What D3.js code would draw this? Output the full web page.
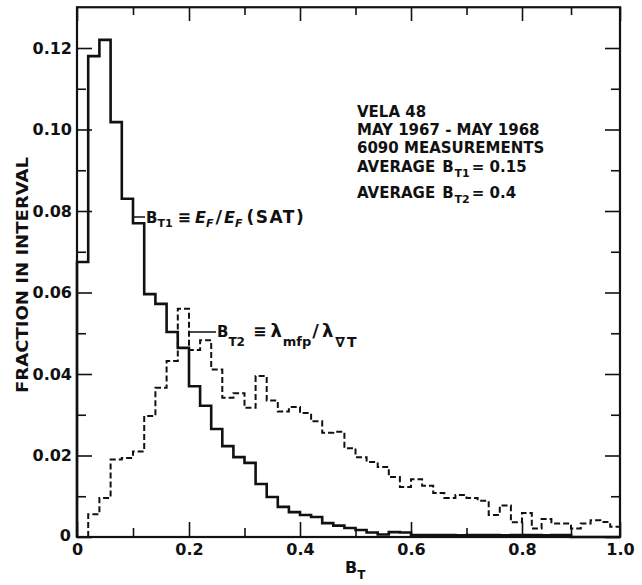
<!DOCTYPE html>
<html>
<head>
<meta charset="utf-8">
<script src="https://cdn.jsdelivr.net/npm/d3@7"></script>
<style>
  body { margin: 0; background: #fff; }
  svg { display: block; }
  text { font-family: "DejaVu Sans", sans-serif; font-weight: bold; fill: #111; }
</style>
</head>
<body>
<svg id="chart" width="642" height="585"></svg>
<script>
// lower edge of each 0.02 wide interval of B_T
var binLower = [0.00, 0.02, 0.04, 0.06, 0.08, 0.10, 0.12, 0.14, 0.16, 0.18,
                0.20, 0.22, 0.24, 0.26, 0.28, 0.30, 0.32, 0.34, 0.36, 0.38,
                0.40, 0.42, 0.44, 0.46, 0.48, 0.50, 0.52, 0.54, 0.56, 0.58,
                0.60, 0.62, 0.64, 0.66, 0.68, 0.70, 0.72, 0.74, 0.76, 0.78,
                0.80, 0.82, 0.84, 0.86, 0.88, 0.90, 0.92, 0.94, 0.96, 0.98];

// B_T1 = E_F / E_F(SAT)  (solid)
var bt1Fraction = [0.0675, 0.118, 0.122, 0.1018, 0.083, 0.077, 0.0596, 0.0572, 0.0503, 0.0464,
                   0.037, 0.0322, 0.0265, 0.0223, 0.0196, 0.0182, 0.013, 0.0098, 0.0074, 0.0061,
                   0.0054, 0.0049, 0.0034, 0.0028, 0.0022, 0.0017, 0.0011, 0.0006, 0.0012, 0.0011,
                   0.0005, 0.0005, 0.0005, 0.0005, 0.0004, 0.0005, 0.0005, 0.0005, 0.0004, 0.0005,
                   0.0005, 0.0005, 0.0004, 0.0005, 0.0005, 0, 0, 0, 0, 0];

// B_T2 = lambda_mfp / lambda_gradT  (dashed)
var bt2Fraction = [0, 0.0056, 0.0096, 0.019, 0.0194, 0.021, 0.0297, 0.0366, 0.0432, 0.056,
                   0.0459, 0.0483, 0.0411, 0.0342, 0.0353, 0.0317, 0.0395, 0.0335, 0.0308, 0.0319,
                   0.0304, 0.0284, 0.0256, 0.0258, 0.0218, 0.0196, 0.0184, 0.0172, 0.0147, 0.0123,
                   0.0142, 0.0126, 0.0108, 0.0096, 0.0103, 0.0096, 0.0089, 0.0054, 0.0077, 0.0036,
                   0.0059, 0.0021, 0.0044, 0.0033, 0.0033, 0.0021, 0.0033, 0.0041, 0.0037, 0.0025];

var xMajor = [0, 0.2, 0.4, 0.6, 0.8, 1.0];
var xMinor = [0.1, 0.3, 0.5, 0.7, 0.9];
var xLabels = ["0", "0.2", "0.4", "0.6", "0.8", "1.0"];
var yMajor = [0, 0.02, 0.04, 0.06, 0.08, 0.10, 0.12];
var yMinor = [0.01, 0.03, 0.05, 0.07, 0.09, 0.11];
var yLabels = ["0", "0.02", "0.04", "0.06", "0.08", "0.10", "0.12"];

var infoLines = ["VELA 48", "MAY 1967 - MAY 1968", "6090 MEASUREMENTS"];
var averages = [["T1", "0.15"], ["T2", "0.4"]];

const svg = d3.select("#chart");

// the printed x axis is not quite even, so the scale follows the printed ticks
const x = d3.scaleLinear()
    .domain([0, 0.2, 0.4, 0.6, 0.8, 1.0])
    .range([77, 189, 300, 411, 522, 620]);
const y = d3.scaleLinear()
    .domain([0, 0.13])
    .range([537, 7.25]);

function stepPoints(values) {
    let first = values.findIndex(v => v > 0);
    let pts = [[binLower[first], 0]];
    for (let i = first; i < values.length; i++) pts.push([binLower[i], values[i]]);
    pts.push([1.0, values[values.length - 1]]);
    return pts;
}

const step = d3.line()
    .x(d => x(d[0]))
    .y(d => y(d[1]))
    .curve(d3.curveStepAfter);

// axes, ticks pointing inward
function drawAxis(axis, tx, ty) {
    const g = svg.append("g")
        .attr("transform", `translate(${tx},${ty})`)
        .call(axis);
    g.select(".domain").remove();
    g.selectAll("line").attr("stroke", "#111").attr("stroke-width", 1.6);
    g.selectAll("text")
        .attr("font-family", "DejaVu Sans")
        .attr("font-weight", "bold")
        .attr("font-size", 16)
        .attr("fill", "#111");
    return g;
}

drawAxis(d3.axisBottom(x).tickValues(xMajor).tickSize(-15).tickPadding(7)
    .tickFormat((d, i) => xLabels[i]), 0, 537);
drawAxis(d3.axisBottom(x).tickValues(xMinor).tickSize(-9).tickFormat(""), 0, 537);
drawAxis(d3.axisTop(x).tickValues(xMajor).tickSize(-14).tickFormat(""), 0, 7);
drawAxis(d3.axisTop(x).tickValues(xMinor).tickSize(-8).tickFormat(""), 0, 7);

const yAx = drawAxis(d3.axisLeft(y).tickValues(yMajor).tickSize(-15).tickPadding(5)
    .tickFormat((d, i) => yLabels[i]), 77, 0);
yAx.selectAll(".tick").filter(d => d === 0).select("text").attr("dx", "-1").attr("dy", "0.2em");
drawAxis(d3.axisLeft(y).tickValues(yMinor).tickSize(-9).tickFormat(""), 77, 0);
drawAxis(d3.axisRight(y).tickValues(yMajor).tickSize(-15).tickFormat(""), 620, 0);
drawAxis(d3.axisRight(y).tickValues(yMinor).tickSize(-9).tickFormat(""), 620, 0);

svg.append("rect")
    .attr("x", x(0))
    .attr("y", y(0.13))
    .attr("width", x(1.0) - x(0))
    .attr("height", y(0) - y(0.13))
    .attr("fill", "none")
    .attr("stroke", "#111")
    .attr("stroke-width", 2.2);

// histograms
svg.append("path")
    .attr("d", step(stepPoints(bt2Fraction)))
    .attr("fill", "none")
    .attr("stroke", "#111")
    .attr("stroke-width", 2)
    .attr("stroke-dasharray", "6,3");

svg.append("path")
    .attr("d", step(stepPoints(bt1Fraction)))
    .attr("fill", "none")
    .attr("stroke", "#111")
    .attr("stroke-width", 2.6);

// curve labels with leader lines
svg.append("line")
    .attr("x1", x(0.10)).attr("x2", x(0.10) + 12)
    .attr("y1", 217).attr("y2", 217)
    .attr("stroke", "#111").attr("stroke-width", 1.5);

const l1 = svg.append("text").attr("x", 146).attr("y", 223).attr("font-size", 15);
l1.append("tspan").text("B");
l1.append("tspan").attr("dy", 4).attr("font-size", 11).text("T1");
l1.append("tspan").attr("dy", -4).attr("dx", 5).attr("font-size", 16).text("\u2261");
l1.append("tspan").attr("dx", 4).attr("font-size", 16).attr("font-style", "italic").text("E");
l1.append("tspan").attr("dy", 4).attr("font-size", 11).attr("font-style", "italic").text("F");
l1.append("tspan").attr("dy", -4).attr("dx", 2).attr("font-size", 18).text("/");
l1.append("tspan").attr("dx", 2).attr("font-size", 16).attr("font-style", "italic").text("E");
l1.append("tspan").attr("dy", 4).attr("font-size", 11).attr("font-style", "italic").text("F");
l1.append("tspan").attr("dy", -4).attr("dx", 4).attr("font-size", 17)
    .attr("letter-spacing", 1.5).text("(SAT)");

svg.append("line")
    .attr("x1", x(0.20)).attr("x2", 216)
    .attr("y1", 332).attr("y2", 332)
    .attr("stroke", "#111").attr("stroke-width", 1.5);

const l2 = svg.append("text").attr("x", 217).attr("y", 337).attr("font-size", 15);
l2.append("tspan").text("B");
l2.append("tspan").attr("dy", 9).attr("font-size", 12).text("T2");
l2.append("tspan").attr("dy", -9).attr("dx", 8).attr("font-size", 16).text("\u2261");
l2.append("tspan").attr("dx", 4).attr("font-size", 18).text("\u03bb");
l2.append("tspan").attr("dy", 9).attr("dx", 1).attr("font-size", 13).text("mfp");
l2.append("tspan").attr("dy", -9).attr("dx", 1).attr("font-size", 18).text("/");
l2.append("tspan").attr("dx", 3).attr("font-size", 18).text("\u03bb");
l2.append("tspan").attr("dy", 10).attr("dx", 2).attr("font-size", 14)
    .attr("letter-spacing", 2).text("\u2207T");

// data set info
svg.append("g")
    .selectAll("text")
    .data(infoLines)
    .enter().append("text")
    .attr("x", 357)
    .attr("y", (d, i) => 117 + i * 18)
    .attr("font-size", 15)
    .text(d => d);

averages.forEach((a, i) => {
    const t = svg.append("text")
        .attr("x", 357)
        .attr("y", 172 + i * 26)
        .attr("font-size", 15);
    t.append("tspan").text("AVERAGE");
    t.append("tspan").attr("dx", 7).text("B");
    t.append("tspan").attr("dy", 5).attr("dx", 1).attr("font-size", 11).text(a[0]);
    t.append("tspan").attr("dy", -5).attr("dx", 2).text("= " + a[1]);
});

// axis titles
svg.append("text")
    .attr("transform", "translate(28,275) rotate(-90)")
    .attr("text-anchor", "middle")
    .attr("font-size", 16.5)
    .attr("textLength", 236)
    .attr("lengthAdjust", "spacingAndGlyphs")
    .text("FRACTION IN INTERVAL");

const xt = svg.append("text").attr("x", 345).attr("y", 573).attr("font-size", 16);
xt.append("tspan").text("B");
xt.append("tspan").attr("dy", 6).attr("font-size", 12).text("T");
</script>
</body>
</html>
